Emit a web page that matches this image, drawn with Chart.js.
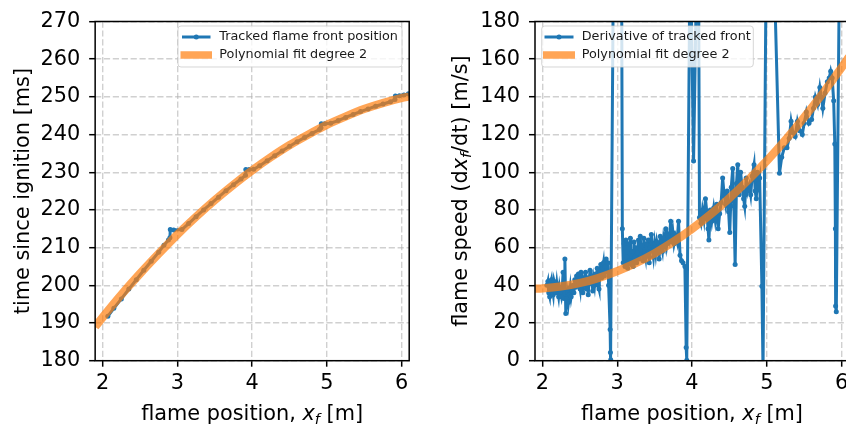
<!DOCTYPE html>
<html>
<head>
<meta charset="utf-8">
<script src="https://cdn.jsdelivr.net/npm/chart.js@4.4.1/dist/chart.umd.min.js"></script>
<style>
  html, body { margin: 0; padding: 0; background: #fff; overflow: hidden; }
  #wrap { position: relative; width: 846px; height: 426px; overflow: hidden; }
  #posChart { position: absolute; left: 0; top: 0; }
  #speedChart { position: absolute; left: 423px; top: 0; }
</style>
</head>
<body>
<div id="wrap">
  <canvas id="posChart" width="423" height="426"></canvas>
  <canvas id="speedChart" width="440" height="426"></canvas>
</div>
<script>
// ---- data ----
const xTicks = [2, 3, 4, 5, 6];
const timeTicks = [180, 190, 200, 210, 220, 230, 240, 250, 260, 270];
const speedTicks = [0, 20, 40, 60, 80, 100, 120, 140, 160, 180];

// tracked flame front: position [m] vs time [ms]
const posX = [2.07, 2.15, 2.25, 2.35, 2.45, 2.55, 2.65, 2.75, 2.82, 2.88,
  2.90, 2.905, 2.95, 3.06, 3.15, 3.25, 3.35, 3.45, 3.55, 3.65,
  3.75, 3.85, 3.91, 3.915, 3.96, 4.02, 4.10, 4.20, 4.30, 4.40,
  4.50, 4.60, 4.70, 4.80, 4.90, 4.92, 4.925, 4.97, 5.05, 5.15,
  5.25, 5.35, 5.45, 5.55, 5.65, 5.75, 5.85, 5.91, 5.915, 5.97,
  6.03, 6.09];
const posT = [191.8, 193.9, 196.4, 199.0, 201.5, 204.0, 206.4, 208.8, 210.6, 212.0,
  212.6, 214.8, 214.7, 214.8, 216.4, 218.2, 220.0, 221.7, 223.4, 225.1,
  226.7, 228.2, 229.2, 230.7, 230.7, 230.8, 231.7, 233.05, 234.4, 235.65,
  236.9, 238.1, 239.2, 240.3, 241.35, 241.8, 242.9, 242.9, 243.0, 243.7,
  244.55, 245.35, 246.1, 246.8, 247.5, 248.1, 248.7, 249.3, 250.2, 250.3,
  250.5, 250.8];

// polynomial fit of the position curve
const fitPosX = [1.9, 2.0, 2.25, 2.5, 2.75, 3.0, 3.25, 3.5, 3.75, 4.0,
  4.25, 4.5, 4.75, 5.0, 5.25, 5.5, 5.75, 6.0, 6.1];
const fitPosT = [189.0, 191.5, 197.5, 203.1, 208.4, 213.5, 218.2, 222.6, 226.7, 230.5,
  234.0, 237.2, 240.0, 242.6, 244.8, 246.8, 248.4, 249.7, 250.1];

// derivative of the tracked front: position [m] vs speed [m/s]
const speedX = [
  2.060, 2.072, 2.084, 2.096, 2.108, 2.120, 2.132, 2.144, 2.156, 2.168,
  2.180, 2.192, 2.204, 2.216, 2.228, 2.240, 2.252, 2.264, 2.276, 2.288,
  2.300, 2.312, 2.324, 2.336, 2.348, 2.360, 2.372, 2.384, 2.396, 2.408,
  2.420, 2.432, 2.444, 2.456, 2.468, 2.480, 2.492, 2.504, 2.516, 2.528,
  2.540, 2.552, 2.564, 2.576, 2.588, 2.600, 2.612, 2.624, 2.636, 2.648,
  2.660, 2.672, 2.684, 2.696, 2.708, 2.720, 2.732, 2.744, 2.756, 2.768,
  2.780, 2.792, 2.804, 2.816, 2.828, 2.840, 2.852, 2.864, 2.876,
  2.885, 2.905, 2.909, 2.913, 2.945, 3.000, 3.060, 3.068,
  3.080, 3.092, 3.104, 3.116, 3.128, 3.140, 3.152, 3.164, 3.176, 3.188,
  3.200, 3.212, 3.224, 3.236, 3.248, 3.260, 3.272, 3.284, 3.296, 3.308,
  3.320, 3.332, 3.344, 3.356, 3.368, 3.380, 3.392, 3.404, 3.416, 3.428,
  3.440, 3.456, 3.470, 3.484, 3.500, 3.515, 3.530, 3.545, 3.560, 3.575,
  3.590, 3.605, 3.620, 3.635, 3.650, 3.665, 3.680, 3.695, 3.715, 3.730,
  3.745, 3.760, 3.780, 3.800, 3.820, 3.840, 3.860, 3.880, 3.905,
  3.922, 3.930, 3.970, 3.990, 4.021, 4.055, 4.090,
  4.100, 4.120, 4.140, 4.160, 4.180, 4.200, 4.215, 4.226, 4.245, 4.265,
  4.290, 4.310, 4.330, 4.350, 4.370, 4.390, 4.410, 4.430, 4.450, 4.470,
  4.490, 4.505, 4.525, 4.545, 4.560, 4.577, 4.595, 4.612, 4.630, 4.650,
  4.670, 4.690, 4.705, 4.725, 4.745, 4.765, 4.785, 4.805, 4.830, 4.845,
  4.860, 4.875, 4.890, 4.905,
  4.935, 4.950, 4.990, 5.110, 5.170,
  5.200, 5.235, 5.270, 5.300, 5.325, 5.350, 5.380, 5.410, 5.440, 5.475,
  5.500, 5.530, 5.565, 5.600, 5.625, 5.650, 5.680, 5.710, 5.730, 5.750,
  5.780, 5.810, 5.835, 5.855,
  5.875, 5.895, 5.910, 5.918, 5.921, 5.930, 5.970, 6.030, 6.095];
const speedV = [
  40, 42, 36, 34, 41, 43, 38, 35, 42, 40,
  36, 41, 37, 34, 39, 36, 34, 38, 47, 33,
  54, 25, 33, 36, 31, 35, 39, 34, 37, 40,
  36, 43, 39, 45, 40, 46, 41, 38, 47, 42,
  36, 44, 40, 47, 38, 44, 35, 42, 48, 41,
  45, 37, 43, 40, 46, 42, 49, 40, 38, 47,
  51, 44, 49, 52, 45, 50, 54, 47, 52,
  40, 16.5, 4.4, 0.5, 190, 600, 190, 70,
  52, 62, 50, 64, 55, 49, 62, 53, 65, 51,
  58, 50, 63, 55, 60, 52, 57, 64, 54, 66,
  56, 61, 53, 65, 58, 55, 62, 57, 64, 52,
  60, 67, 59, 55, 62, 57, 63, 60, 54, 66,
  61, 58, 65, 62, 70, 62, 66, 64, 74, 63,
  68, 62, 66, 63, 74, 56, 53, 52, 50,
  7, 0.3, 200, 190, 106, 190, 190,
  76, 73, 80, 75, 86, 78, 70, 64, 80, 74,
  81, 75, 83, 70, 78, 84, 97, 88, 83, 90,
  79, 68, 92, 102, 82, 51, 94, 104, 88, 100,
  92, 86, 82, 97, 90, 93, 88, 98, 104, 90,
  86, 100, 94, 97,
  39.5, -5, 200, 190, 99.5,
  108, 113, 113, 118, 127, 121, 119, 127, 122, 120,
  126, 132, 126, 128, 134, 140, 136, 145, 140, 134,
  142, 148, 150, 153.6,
  150, 138, 115, 70, 29, 26, 200, 400, 300];

// polynomial fit of the speed
const fitSpeedX = [1.9, 2.0, 2.25, 2.5, 2.75, 3.0, 3.25, 3.5, 3.75, 4.0,
  4.25, 4.5, 4.75, 5.0, 5.25, 5.5, 5.75, 6.0, 6.1];
const fitSpeedV = [38.2, 38.4, 39.4, 41.2, 43.9, 47.5, 51.8, 57.0, 63.1, 70.0,
  77.7, 86.3, 95.8, 106.0, 117.1, 129.1, 141.9, 155.5, 161.2];

// ---- styling ----
const FONT = '"DejaVu Sans", "Liberation Sans", sans-serif';
const TICK_SIZE = 20.83;
const SUB_SIZE = 14.6;
const BLUE = '#1f77b4';
const ORANGE = 'rgba(255, 127, 14, 0.7)';

function points(xs, ys) {
  return xs.map((x, i) => ({ x: x, y: ys[i] }));
}

function drawParts(ctx, parts, x, y, rotation) {
  ctx.save();
  ctx.translate(x, y);
  ctx.rotate(rotation);
  ctx.fillStyle = '#000';
  ctx.textBaseline = 'alphabetic';
  const fontOf = p => (p.it ? 'italic ' : '') + (p.sub ? SUB_SIZE : TICK_SIZE) + 'px ' + FONT;
  let w = 0;
  parts.forEach(p => { ctx.font = fontOf(p); w += ctx.measureText(p.t).width; });
  let cx = -w / 2;
  parts.forEach(p => {
    ctx.font = fontOf(p);
    ctx.fillText(p.t, cx, p.sub ? 4 : 0);
    cx += ctx.measureText(p.t).width;
  });
  ctx.restore();
}

function roundRect(ctx, x, y, w, h, r) {
  ctx.beginPath();
  ctx.moveTo(x + r, y);
  ctx.arcTo(x + w, y, x + w, y + h, r);
  ctx.arcTo(x + w, y + h, x, y + h, r);
  ctx.arcTo(x, y + h, x, y, r);
  ctx.arcTo(x, y, x + w, y, r);
  ctx.closePath();
}

// spines all round, matplotlib-style legend and axis titles
const decorPlugin = {
  id: 'decor',
  afterDatasetsDraw(chart, args, opts) {
    const { ctx, chartArea: a } = chart;
    ctx.save();
    ctx.strokeStyle = '#000';
    ctx.lineWidth = 1.5;
    ctx.strokeRect(a.left, a.top, a.right - a.left, a.bottom - a.top);

    const L = opts.legend;
    roundRect(ctx, L.x, L.y, L.w, L.h, 3);
    ctx.fillStyle = 'rgba(255,255,255,0.8)';
    ctx.fill();
    ctx.strokeStyle = 'rgba(204,204,204,0.8)';
    ctx.lineWidth = 1;
    ctx.stroke();
    chart.data.datasets.forEach((ds, i) => {
      const y = L.rows[i];
      const ext = ds.borderWidth > 4 ? 1.5 : 0;
      ctx.beginPath();
      ctx.moveTo(L.symX0 - ext, y);
      ctx.lineTo(L.symX1 + ext, y);
      ctx.strokeStyle = ds.borderColor;
      ctx.lineWidth = ds.borderWidth > 4 ? 7.5 : ds.borderWidth;
      ctx.stroke();
      if (ds.pointRadius > 0) {
        ctx.beginPath();
        ctx.arc((L.symX0 + L.symX1) / 2, y, ds.pointRadius, 0, Math.PI * 2);
        ctx.fillStyle = ds.borderColor;
        ctx.fill();
      }
      ctx.fillStyle = '#1a1a1a';
      ctx.font = '12.8px ' + FONT;
      ctx.textBaseline = 'middle';
      ctx.fillText(ds.label, L.textX, y);
    });
    ctx.restore();
  },
  afterDraw(chart, args, opts) {
    const { ctx, chartArea: a } = chart;
    drawParts(ctx, opts.xTitle, (a.left + a.right) / 2, opts.xTitleY, 0);
    drawParts(ctx, opts.yTitle, opts.yTitleX, (a.top + a.bottom) / 2, -Math.PI / 2);
  }
};

function scale(min, max, tickValues, fitKey, fitSize, pad) {
  return {
    type: 'linear',
    min: min,
    max: max,
    afterBuildTicks: s => { s.ticks = tickValues.map(v => ({ value: v })); },
    afterFit: s => { s[fitKey] = fitSize; },
    ticks: { font: { family: FONT, size: TICK_SIZE }, color: '#000', padding: pad, autoSkip: false, maxRotation: 0 },
    grid: {
      color: 'rgba(176,176,176,0.6)', lineWidth: 1.4,
      tickColor: '#000', tickWidth: 1.5, tickLength: 6, tickBorderDash: []
    },
    // in v4 border.dash sets the dash pattern of the grid lines
    border: { display: false, dash: [6.2, 2.7] }
  };
}

const xTitle = [{ t: 'flame position, ' }, { t: 'x', it: true }, { t: 'f', it: true, sub: true }, { t: ' [m]' }];

new Chart(document.getElementById('posChart'), {
  type: 'scatter',
  data: {
    datasets: [
      {
        label: 'Tracked flame front position',
        data: points(posX, posT),
        showLine: true, borderColor: BLUE, backgroundColor: BLUE, borderWidth: 3,
        pointRadius: 2.5, pointBorderWidth: 0, pointHoverRadius: 0, clip: 0, order: 2
      },
      {
        label: 'Polynomial fit degree 2',
        data: points(fitPosX, fitPosT),
        showLine: true, borderColor: ORANGE, borderWidth: 8.3, cubicInterpolationMode: 'monotone',
        pointRadius: 0, pointHoverRadius: 0, clip: 0, order: 1
      }
    ]
  },
  options: {
    responsive: false, animation: false, events: [],
    layout: { padding: { top: 20, right: 13.8, left: 0, bottom: 0 } },
    plugins: {
      legend: { display: false }, tooltip: { enabled: false },
      decor: {
        legend: { x: 178, y: 26, w: 224, h: 41, rows: [37, 55], symX0: 182, symX1: 210.5, textX: 219.3 },
        xTitle: xTitle, xTitleY: 420,
        yTitle: [{ t: 'time since ignition [ms]' }], yTitleX: 29.3
      }
    },
    scales: {
      x: scale(1.9, 6.1, xTicks, 'height', 65.3, 4.5),
      y: scale(180, 270, timeTicks, 'width', 95.15, 9)
    }
  },
  plugins: [decorPlugin]
});

new Chart(document.getElementById('speedChart'), {
  type: 'scatter',
  data: {
    datasets: [
      {
        label: 'Derivative of tracked front',
        data: points(speedX, speedV),
        showLine: true, borderColor: BLUE, backgroundColor: BLUE, borderWidth: 3,
        pointRadius: 2.5, pointBorderWidth: 0, pointHoverRadius: 0, clip: 0, order: 2
      },
      {
        label: 'Polynomial fit degree 2',
        data: points(fitSpeedX, fitSpeedV),
        showLine: true, borderColor: ORANGE, borderWidth: 8.3, cubicInterpolationMode: 'monotone',
        pointRadius: 0, pointHoverRadius: 0, clip: 0, order: 1
      }
    ]
  },
  options: {
    responsive: false, animation: false, events: [],
    layout: { padding: { top: 20, right: 14, left: 0, bottom: 0 } },
    plugins: {
      legend: { display: false }, tooltip: { enabled: false },
      decor: {
        legend: { x: 118.7, y: 26, w: 211.6, h: 41, rows: [37, 55], symX0: 121.5, symX1: 150.5, textX: 158.7 },
        xTitle: xTitle, xTitleY: 420,
        yTitle: [{ t: 'flame speed (d' }, { t: 'x', it: true }, { t: 'f', it: true, sub: true }, { t: '/dt) [m/s]' }],
        yTitleX: 44.3
      }
    },
    scales: {
      x: scale(1.9, 6.1, xTicks, 'height', 65.3, 4.5),
      y: scale(0, 180, speedTicks, 'width', 112, 9)
    }
  },
  plugins: [decorPlugin]
});
</script>
</body>
</html>
